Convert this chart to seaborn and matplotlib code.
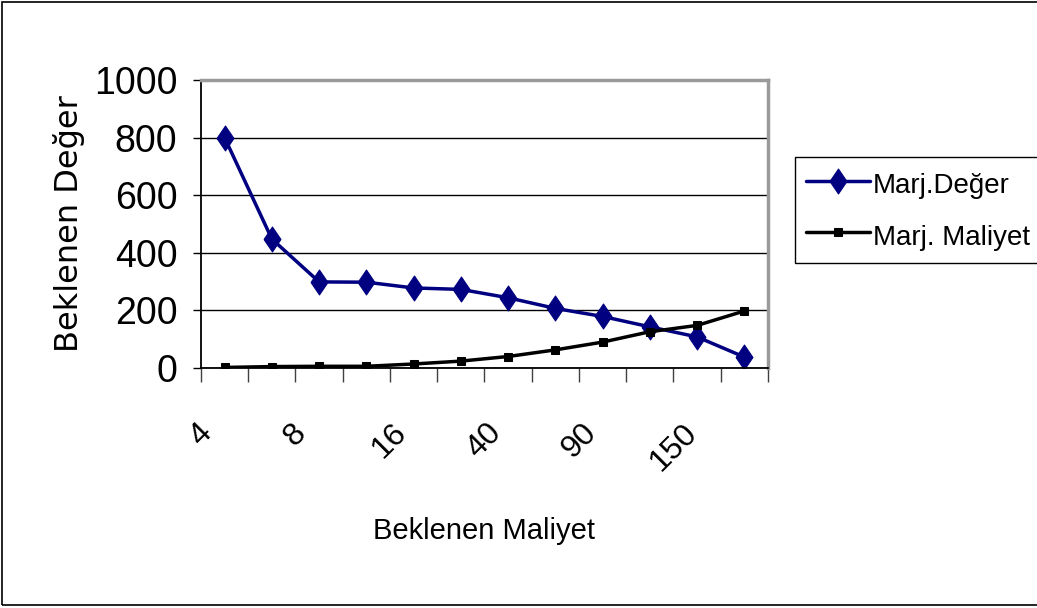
"""Marjinal deger / marjinal maliyet line chart"""

import matplotlib
matplotlib.use("Agg")
import matplotlib.pyplot as plt
import matplotlib.patches as mpatches
import numpy as np
import pandas as pd
import seaborn as sns

# Data (12 points, labels only on every other boundary)
tick_labels = ["4", "", "8", "", "16", "", "40", "", "90", "", "150", "", ""]
marj_deger = [800, 448, 299, 298, 278, 273, 244, 207, 179, 143, 108, 38]
marj_maliyet = [2, 5, 6, 6, 14, 24, 40, 63, 90, 126, 148, 198]
y_ticks = [0, 200, 400, 600, 800, 1000]

df = pd.DataFrame({
    "pos": np.arange(len(marj_deger)),
    "Marj.Değer": marj_deger,
    "Marj. Maliyet": marj_maliyet,
})

sns.set_style("white")
plt.rcParams["font.family"] = ["Liberation Sans", "DejaVu Sans"]
plt.rcParams["text.color"] = "black"
plt.rcParams["axes.labelcolor"] = "black"
plt.rcParams["xtick.color"] = "black"
plt.rcParams["ytick.color"] = "black"

fig = plt.figure(figsize=(10.37, 6.08), dpi=100)
ax = fig.add_axes([0.1938, 0.3947, 0.5468, 0.4737])

# tall diamond like the Excel marker
diamond = [(-0.68, 0), (0, 1), (0.68, 0), (0, -1), (-0.68, 0)]

sns.lineplot(data=df, x="pos", y="Marj.Değer", ax=ax, color="#000080",
             linewidth=2.5, marker=diamond, markersize=18,
             markeredgecolor="#000080", markerfacecolor="#000080",
             label="Marj.Değer")
sns.lineplot(data=df, x="pos", y="Marj. Maliyet", ax=ax, color="black",
             linewidth=2.5, marker="s", markersize=6,
             markeredgecolor="black", markerfacecolor="black",
             label="Marj. Maliyet")

ax.set_xlim(-0.5, len(marj_deger) - 0.5)
ax.set_ylim(0, 1000)
ax.set_yticks(y_ticks)
ax.set_yticklabels([str(v) for v in y_ticks], fontsize=27)
ax.set_xticks(np.arange(len(tick_labels)) - 0.5)
ax.set_xticklabels(tick_labels, rotation=45, ha="center", va="top", fontsize=23)

ax.tick_params(axis="y", direction="out", length=6, width=1, color="black",
               pad=11, left=True)
ax.tick_params(axis="x", direction="out", length=10, width=1, color="#404040",
               pad=26, bottom=True)

ax.yaxis.grid(True, color="black", linewidth=1)
ax.xaxis.grid(False)
ax.set_axisbelow(True)

for side in ["top", "right"]:
    ax.spines[side].set_color("#9a9a9a")
    ax.spines[side].set_linewidth(2.5)
for side in ["left", "bottom"]:
    ax.spines[side].set_color("black")
    ax.spines[side].set_linewidth(1.3)

ax.set_ylabel("Beklenen Değer", fontsize=23, family="DejaVu Sans")
ax.yaxis.set_label_coords(-0.204, 0.5)
ax.set_xlabel("Beklenen Maliyet", fontsize=21, va="center")
ax.xaxis.set_label_coords(0.5, -0.566)

handles, labels = ax.get_legend_handles_labels()
ax.get_legend().remove()
leg = fig.legend(handles, labels, loc="upper left",
                 bbox_to_anchor=(0.7666, 0.7418), frameon=True,
                 fancybox=False, edgecolor="black", framealpha=1,
                 borderpad=0.4, handlelength=2.3, handleheight=1.4,
                 handletextpad=0.1, labelspacing=0.7, borderaxespad=0,
                 prop={"size": 20})
leg.get_frame().set_linewidth(1.0)

# thin frame round the whole chart
fig.patches.append(mpatches.Rectangle((0.002, 0.005), 1.1, 0.992,
                                      transform=fig.transFigure, fill=False,
                                      edgecolor="black", linewidth=1.2))

fig.savefig("out.png", dpi=100)
